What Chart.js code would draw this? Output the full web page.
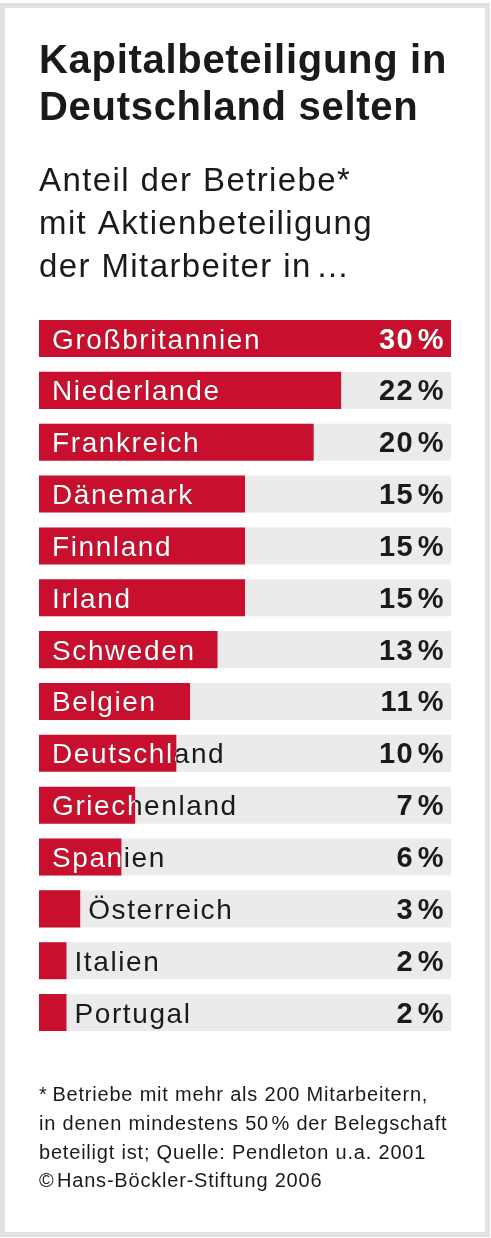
<!DOCTYPE html>
<html>
<head>
<meta charset="utf-8">
<script src="https://cdn.jsdelivr.net/npm/chart.js@4"></script>
<style>
  html, body { margin: 0; padding: 0; background: #fff; }
  canvas { display: block; }
</style>
</head>
<body>
<canvas id="bar_chart" width="491" height="1238"></canvas>
<script>
const countries = [
    'Großbritannien', 'Niederlande', 'Frankreich', 'Dänemark', 'Finnland',
    'Irland', 'Schweden', 'Belgien', 'Deutschland', 'Griechenland',
    'Spanien', 'Österreich', 'Italien', 'Portugal'
];
const shares = [30, 22, 20, 15, 15, 15, 13, 11, 10, 7, 6, 3, 2, 2];
const titleLines = ['Kapitalbeteiligung in', 'Deutschland selten'];
const subtitleLines = ['Anteil der Betriebe*', 'mit Aktienbeteiligung', 'der Mitarbeiter in\u200A…'];
const footLines = [
    '*\u2009Betriebe mit mehr als 200 Mitarbeitern,',
    'in denen mindestens 50\u200A% der Belegschaft',
    'beteiligt ist; Quelle: Pendleton u.a. 2001',
    '©\u200AHans-Böckler-Stiftung 2006'
];

const RED = '#c8102e';
const TRACK = '#ebebeb';
const INK = '#1a1a1a';
const FONT = '"Liberation Sans", Arial, Helvetica, sans-serif';

// frame, title, subtitle and footnote
const textPlugin = {
    id: 'texts',
    beforeDraw(chart) {
        const ctx = chart.ctx;
        ctx.save();
        ctx.fillStyle = '#fff';
        ctx.fillRect(0, 0, chart.width, chart.height);
        ctx.strokeStyle = '#e2e2e2';
        ctx.lineWidth = 5;
        ctx.strokeRect(2.5, 5.5, 485, 1229);

        ctx.fillStyle = INK;
        ctx.textAlign = 'left';
        ctx.textBaseline = 'alphabetic';
        ctx.font = 'bold 40px ' + FONT;
        ctx.letterSpacing = '0.7px';
        titleLines.forEach((t, i) => ctx.fillText(t, 39, 73 + i * 47));

        ctx.font = '33px ' + FONT;
        ctx.letterSpacing = '1.4px';
        subtitleLines.forEach((t, i) => ctx.fillText(t, 39, 191 + i * 43));

        ctx.font = '20px ' + FONT;
        ctx.letterSpacing = '0.8px';
        footLines.forEach((t, i) => ctx.fillText(t, 39, 1101 + i * 28.8));
        ctx.restore();
    }
};

// grey track behind each bar, labels drawn in two colours (white over red)
const barTextPlugin = {
    id: 'barTexts',
    beforeDatasetsDraw(chart) {
        const ctx = chart.ctx;
        const area = chart.chartArea;
        ctx.save();
        ctx.fillStyle = TRACK;
        chart.getDatasetMeta(0).data.forEach(bar => {
            ctx.fillRect(area.left, bar.y - bar.height / 2, area.right - area.left, bar.height);
        });
        ctx.restore();
    },
    afterDatasetsDraw(chart) {
        const ctx = chart.ctx;
        const area = chart.chartArea;
        const x = chart.scales.x;
        chart.getDatasetMeta(0).data.forEach((bar, i) => {
            const top = bar.y - bar.height / 2;
            const left = x.getPixelForValue(0);
            const end = bar.x;
            const labelX = (end - left) < 50 ? end + 8 : left + 13;
            const baseY = bar.y + 10;
            const draw = (color) => {
                ctx.fillStyle = color;
                ctx.textBaseline = 'alphabetic';
                ctx.font = '28px ' + FONT;
                ctx.letterSpacing = '1.6px';
                ctx.textAlign = 'left';
                ctx.fillText(countries[i], labelX, baseY);
                ctx.font = 'bold 29px ' + FONT;
                ctx.letterSpacing = '1.4px';
                ctx.textAlign = 'right';
                ctx.fillText(shares[i] + '\u200A%', area.right - 6, baseY);
            };
            ctx.save();
            draw(INK);
            ctx.beginPath();
            ctx.rect(left, top, end - left, bar.height);
            ctx.clip();
            draw('#fff');
            ctx.restore();
        });
    }
};

const BarChartData = {
    labels: countries,
    datasets: [{
        label: 'Anteil der Betriebe',
        data: shares,
        backgroundColor: RED,
        borderWidth: 0,
        barPercentage: 0.714,
        categoryPercentage: 1
    }]
};

const BarChartConfig = {
    type: 'bar',
    data: BarChartData,
    options: {
        indexAxis: 'y',
        responsive: false,
        animation: false,
        events: [],
        layout: {
            padding: { left: 39, right: 40, top: 312.6, bottom: 199.5 }
        },
        scales: {
            x: { display: false, min: 0, max: 30 },
            y: { display: false }
        },
        plugins: {
            legend: { display: false },
            tooltip: { enabled: false }
        }
    },
    plugins: [textPlugin, barTextPlugin]
};

// === display chart ===
var myBarChart = new Chart(
    document.getElementById('bar_chart'),
    BarChartConfig
);
</script>
</body>
</html>
